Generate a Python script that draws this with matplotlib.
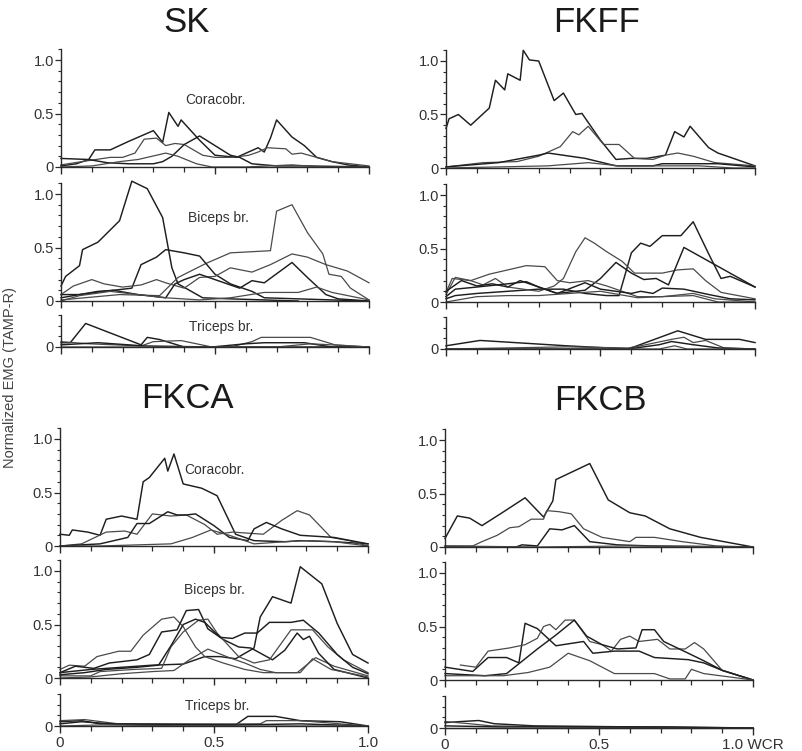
import matplotlib
matplotlib.use("Agg")
import matplotlib.pyplot as plt
from matplotlib.ticker import MultipleLocator, FixedLocator

plt.rcParams['font.family'] = ['Liberation Sans', 'DejaVu Sans']

# ---- data: each line is a list of (WCR, normalized EMG) ----
SK_CORACOBR = [
    [(0, 0.01), (0.05, 0.03), (0.09, 0.07), (0.11, 0.16), (0.16, 0.16), (0.22, 0.24), (0.30, 0.34),
     (0.33, 0.23), (0.35, 0.51), (0.38, 0.38), (0.39, 0.44), (0.45, 0.25), (0.50, 0.11), (0.57, 0.09),
     (0.64, 0.18), (0.66, 0.14), (0.68, 0.27), (0.70, 0.44), (0.75, 0.28), (0.79, 0.20), (0.83, 0.09),
     (0.88, 0.05), (0.93, 0.02), (1.0, 0.0)],
    [(0, 0.02), (0.09, 0.06), (0.16, 0.09), (0.20, 0.09), (0.24, 0.13), (0.27, 0.26), (0.31, 0.27),
     (0.34, 0.20), (0.37, 0.22), (0.40, 0.21), (0.46, 0.11), (0.50, 0.09), (0.56, 0.09), (0.61, 0.11),
     (0.64, 0.14), (0.67, 0.18), (0.73, 0.17), (0.75, 0.12), (0.78, 0.13), (0.83, 0.09), (0.88, 0.05),
     (1.0, 0.01)],
    [(0, 0.08), (0.09, 0.07), (0.15, 0.04), (0.22, 0.03), (0.30, 0.03), (0.33, 0.05), (0.36, 0.10),
     (0.40, 0.21), (0.45, 0.29), (0.50, 0.20), (0.55, 0.11), (0.58, 0.09), (0.62, 0.03), (0.70, 0.01),
     (0.80, 0.01), (1.0, 0.0)],
    [(0, 0.0), (0.10, 0.01), (0.19, 0.05), (0.25, 0.07), (0.34, 0.13), (0.38, 0.10), (0.44, 0.03),
     (0.49, 0.0), (0.60, 0.0), (0.75, 0.02), (0.85, 0.0), (1.0, 0.0)],
]

SK_BICEPS = [
    [(0, 0.14), (0.015, 0.23), (0.06, 0.33), (0.07, 0.48), (0.12, 0.55), (0.19, 0.75), (0.23, 1.12),
     (0.28, 1.05), (0.33, 0.78), (0.36, 0.31), (0.38, 0.16), (0.46, 0.03), (0.55, 0.02), (0.66, 0.01),
     (0.77, 0.0)],
    [(0, 0.01), (0.19, 0.06), (0.32, 0.05), (0.38, 0.22), (0.47, 0.35), (0.55, 0.45), (0.68, 0.47),
     (0.70, 0.84), (0.75, 0.90), (0.80, 0.64), (0.85, 0.44), (0.87, 0.25), (0.91, 0.23), (0.94, 0.12),
     (1.0, 0.01)],
    [(0, 0.06), (0.06, 0.06), (0.14, 0.09), (0.23, 0.12), (0.26, 0.34), (0.31, 0.41), (0.34, 0.48),
     (0.40, 0.45), (0.45, 0.42), (0.50, 0.25), (0.55, 0.16), (0.62, 0.09), (0.66, 0.03), (0.77, 0.02),
     (0.88, 0.01), (1.0, 0.0)],
    [(0, 0.06), (0.04, 0.14), (0.10, 0.20), (0.14, 0.16), (0.20, 0.13), (0.26, 0.15), (0.31, 0.20),
     (0.34, 0.17), (0.40, 0.12), (0.45, 0.22), (0.50, 0.23), (0.55, 0.31), (0.62, 0.27), (0.68, 0.34),
     (0.75, 0.44), (0.80, 0.41), (0.86, 0.34), (0.93, 0.28), (1.0, 0.17)],
    [(0, 0.03), (0.12, 0.09), (0.17, 0.10), (0.25, 0.06), (0.34, 0.03), (0.37, 0.16), (0.40, 0.20),
     (0.45, 0.25), (0.51, 0.19), (0.58, 0.12), (0.62, 0.19), (0.66, 0.17), (0.75, 0.36), (0.80, 0.22),
     (0.86, 0.06), (0.90, 0.02), (1.0, 0.0)],
    [(0, 0.0), (0.06, 0.05), (0.16, 0.09), (0.25, 0.06), (0.34, 0.03), (0.45, 0.01), (0.55, 0.03),
     (0.66, 0.08), (0.77, 0.08), (0.83, 0.13), (0.88, 0.08), (1.0, 0.01)],
]

SK_TRICEPS = [
    [(0, 0.04), (0.03, 0.04), (0.08, 0.22), (0.26, 0.02), (0.28, 0.09), (0.32, 0.07), (0.40, 0.0),
     (0.5, 0.0), (1.0, 0.0)],
    [(0, 0.05), (0.09, 0.03), (0.26, 0.01), (0.30, 0.05), (0.39, 0.06), (0.49, 0.0), (0.55, 0.0),
     (0.62, 0.05), (0.65, 0.09), (0.81, 0.09), (0.89, 0.02), (1.0, 0.0)],
    [(0, 0.02), (0.12, 0.04), (0.27, 0.01), (0.49, 0.0), (0.60, 0.03), (0.66, 0.04), (0.79, 0.04),
     (0.88, 0.0), (1.0, 0.0)],
    [(0, 0.0), (0.5, 0.0), (0.70, 0.0), (0.81, 0.03), (0.88, 0.02), (1.0, 0.0)],
]

FKFF_CORACOBR = [
    [(0, 0.37), (0.01, 0.46), (0.04, 0.50), (0.08, 0.40), (0.14, 0.56), (0.16, 0.82), (0.19, 0.73),
     (0.20, 0.88), (0.24, 0.82), (0.25, 1.10), (0.27, 1.01), (0.30, 1.00), (0.35, 0.63), (0.38, 0.70),
     (0.42, 0.50), (0.44, 0.51), (0.50, 0.26), (0.55, 0.08), (0.60, 0.09), (0.65, 0.09), (0.71, 0.12),
     (0.74, 0.34), (0.77, 0.29), (0.79, 0.39), (0.85, 0.19), (0.88, 0.14), (1.0, 0.02)],
    [(0, 0.01), (0.12, 0.05), (0.23, 0.06), (0.30, 0.11), (0.37, 0.20), (0.41, 0.34), (0.43, 0.31),
     (0.46, 0.39), (0.51, 0.22), (0.56, 0.22), (0.61, 0.09), (0.67, 0.08), (0.71, 0.12), (0.75, 0.14),
     (0.80, 0.11), (0.87, 0.05), (1.0, 0.02)],
    [(0, 0.01), (0.17, 0.05), (0.30, 0.12), (0.33, 0.14), (0.45, 0.09), (0.55, 0.02), (0.67, 0.02),
     (0.70, 0.04), (0.88, 0.04), (1.0, 0.01)],
    [(0, 0.0), (0.17, 0.01), (0.33, 0.02), (0.46, 0.05), (0.56, 0.02), (0.71, 0.02), (0.82, 0.02),
     (0.93, 0.0), (1.0, 0.0)],
]

FKFF_BICEPS = [
    [(0, 0.03), (0.03, 0.06), (0.10, 0.08), (0.20, 0.10), (0.30, 0.12), (0.38, 0.12), (0.45, 0.08),
     (0.52, 0.06), (0.56, 0.06), (0.60, 0.46), (0.63, 0.55), (0.66, 0.52), (0.70, 0.62), (0.76, 0.62),
     (0.80, 0.75), (0.85, 0.45), (0.89, 0.22), (0.92, 0.24), (1.0, 0.14)],
    [(0, 0.09), (0.02, 0.22), (0.08, 0.20), (0.12, 0.16), (0.16, 0.22), (0.20, 0.14), (0.25, 0.12),
     (0.30, 0.10), (0.35, 0.15), (0.38, 0.22), (0.42, 0.47), (0.45, 0.60), (0.48, 0.55), (0.52, 0.47),
     (0.57, 0.38), (0.61, 0.27), (0.65, 0.27), (0.70, 0.27), (0.75, 0.30), (0.80, 0.31), (0.84, 0.20),
     (0.89, 0.09), (1.0, 0.03)],
    [(0, 0.05), (0.03, 0.12), (0.10, 0.14), (0.20, 0.17), (0.26, 0.19), (0.30, 0.14), (0.36, 0.08),
     (0.45, 0.11), (0.50, 0.22), (0.55, 0.37), (0.60, 0.27), (0.64, 0.21), (0.68, 0.22), (0.72, 0.16),
     (0.77, 0.51), (1.0, 0.14)],
    [(0, 0.07), (0.03, 0.23), (0.08, 0.20), (0.14, 0.26), (0.20, 0.30), (0.26, 0.34), (0.32, 0.33),
     (0.36, 0.20), (0.40, 0.18), (0.46, 0.20), (0.52, 0.15), (0.57, 0.10), (0.62, 0.05), (0.70, 0.05),
     (0.80, 0.08), (0.87, 0.03), (1.0, 0.0)],
    [(0, 0.10), (0.05, 0.20), (0.10, 0.15), (0.15, 0.17), (0.20, 0.14), (0.24, 0.20), (0.30, 0.14),
     (0.36, 0.08), (0.45, 0.18), (0.50, 0.12), (0.55, 0.10), (0.60, 0.08), (0.63, 0.10), (0.67, 0.08),
     (0.70, 0.13), (0.77, 0.12), (0.85, 0.07), (0.92, 0.03), (1.0, 0.02)],
    [(0, 0.0), (0.10, 0.05), (0.20, 0.06), (0.30, 0.06), (0.40, 0.08), (0.50, 0.10), (0.58, 0.06),
     (0.62, 0.04), (0.70, 0.05), (0.80, 0.06), (0.88, 0.0), (1.0, 0.0)],
]

FKFF_TRICEPS = [
    [(0, 0.03), (0.11, 0.08), (0.39, 0.03), (0.59, 0.0), (0.75, 0.17), (0.84, 0.09), (0.89, 0.09),
     (0.95, 0.09), (1.0, 0.06)],
    [(0, 0.0), (0.39, 0.02), (0.59, 0.01), (0.63, 0.03), (0.73, 0.09), (0.77, 0.11), (0.80, 0.06),
     (0.84, 0.08), (0.90, 0.01), (1.0, 0.0)],
    [(0, 0.0), (0.59, 0.0), (0.69, 0.04), (0.73, 0.07), (0.80, 0.04), (0.88, 0.01), (1.0, 0.0)],
    [(0, 0.0), (0.69, 0.0), (0.74, 0.03), (0.78, 0.0), (1.0, 0.0)],
]

FKCA_CORACOBR = [
    [(0, 0.11), (0.03, 0.10), (0.04, 0.15), (0.09, 0.13), (0.13, 0.10), (0.15, 0.25), (0.20, 0.28),
     (0.25, 0.25), (0.27, 0.60), (0.29, 0.64), (0.34, 0.82), (0.35, 0.70), (0.37, 0.86), (0.40, 0.58),
     (0.46, 0.54), (0.51, 0.47), (0.57, 0.11), (0.63, 0.05), (0.73, 0.04), (0.78, 0.05), (0.89, 0.04),
     (1.0, 0.02)],
    [(0, 0.0), (0.07, 0.02), (0.15, 0.13), (0.21, 0.14), (0.25, 0.11), (0.30, 0.30), (0.36, 0.28),
     (0.41, 0.29), (0.47, 0.20), (0.51, 0.11), (0.56, 0.13), (0.61, 0.12), (0.66, 0.11), (0.72, 0.24),
     (0.77, 0.33), (0.81, 0.29), (0.88, 0.08), (0.94, 0.05), (1.0, 0.0)],
    [(0, 0.0), (0.13, 0.02), (0.22, 0.08), (0.25, 0.21), (0.29, 0.21), (0.35, 0.32), (0.38, 0.29),
     (0.41, 0.29), (0.44, 0.30), (0.50, 0.19), (0.55, 0.08), (0.61, 0.05), (0.63, 0.16), (0.67, 0.22),
     (0.72, 0.16), (0.78, 0.10), (0.89, 0.08), (1.0, 0.02)],
    [(0, 0.0), (0.13, 0.0), (0.36, 0.02), (0.43, 0.08), (0.49, 0.15), (0.55, 0.10), (0.63, 0.02),
     (0.73, 0.04), (0.80, 0.05), (0.89, 0.04), (1.0, 0.0)],
]

FKCA_BICEPS = [
    [(0, 0.05), (0.10, 0.08), (0.20, 0.10), (0.30, 0.12), (0.40, 0.13), (0.47, 0.20), (0.52, 0.20),
     (0.57, 0.18), (0.63, 0.28), (0.65, 0.57), (0.69, 0.76), (0.75, 0.70), (0.78, 1.04), (0.85, 0.88),
     (0.90, 0.51), (0.95, 0.22), (1.0, 0.14)],
    [(0, 0.08), (0.03, 0.12), (0.08, 0.11), (0.12, 0.20), (0.19, 0.25), (0.23, 0.25), (0.27, 0.40),
     (0.33, 0.55), (0.37, 0.57), (0.40, 0.48), (0.44, 0.29), (0.47, 0.20), (0.53, 0.14), (0.60, 0.08),
     (0.66, 0.05), (0.77, 0.05), (0.83, 0.19), (0.89, 0.11), (1.0, 0.02)],
    [(0, 0.05), (0.05, 0.11), (0.11, 0.09), (0.16, 0.14), (0.25, 0.17), (0.29, 0.22), (0.33, 0.43),
     (0.38, 0.45), (0.41, 0.63), (0.45, 0.64), (0.48, 0.46), (0.53, 0.36), (0.58, 0.29), (0.62, 0.28),
     (0.69, 0.17), (0.73, 0.26), (0.77, 0.42), (0.79, 0.36), (0.81, 0.39), (0.84, 0.23), (0.89, 0.08),
     (1.0, 0.0)],
    [(0, 0.02), (0.10, 0.02), (0.13, 0.06), (0.24, 0.08), (0.33, 0.09), (0.36, 0.29), (0.40, 0.43),
     (0.45, 0.54), (0.48, 0.55), (0.51, 0.42), (0.58, 0.20), (0.63, 0.14), (0.68, 0.17), (0.72, 0.33),
     (0.75, 0.45), (0.82, 0.45), (0.87, 0.29), (0.92, 0.17), (1.0, 0.05)],
    [(0, 0.03), (0.08, 0.05), (0.15, 0.08), (0.25, 0.10), (0.32, 0.12), (0.36, 0.30), (0.40, 0.50),
     (0.44, 0.55), (0.47, 0.52), (0.52, 0.38), (0.56, 0.37), (0.60, 0.42), (0.64, 0.42), (0.68, 0.52),
     (0.75, 0.52), (0.79, 0.54), (0.84, 0.42), (0.90, 0.22), (0.95, 0.10), (1.0, 0.04)],
    [(0, 0.0), (0.10, 0.01), (0.20, 0.04), (0.30, 0.06), (0.37, 0.07), (0.42, 0.17), (0.48, 0.27),
     (0.55, 0.19), (0.60, 0.14), (0.65, 0.08), (0.70, 0.05), (0.78, 0.05), (0.82, 0.18), (0.88, 0.08),
     (1.0, 0.01)],
]

FKCA_TRICEPS = [
    [(0, 0.04), (0.07, 0.05), (0.13, 0.02), (0.41, 0.01), (0.57, 0.01), (0.61, 0.09), (0.70, 0.09),
     (0.78, 0.05), (0.91, 0.04), (1.0, 0.0)],
    [(0, 0.05), (0.08, 0.06), (0.19, 0.02), (0.65, 0.02), (0.67, 0.05), (0.78, 0.05), (0.91, 0.02),
     (1.0, 0.0)],
    [(0, 0.02), (0.07, 0.04), (0.17, 0.02), (0.57, 0.01), (0.78, 0.02), (1.0, 0.0)],
    [(0, 0.0), (0.13, 0.01), (0.46, 0.0), (1.0, 0.0)],
]

FKCB_CORACOBR = [
    [(0, 0.08), (0.04, 0.29), (0.08, 0.27), (0.12, 0.20), (0.18, 0.31), (0.26, 0.46), (0.32, 0.28),
     (0.35, 0.43), (0.36, 0.63), (0.47, 0.78), (0.53, 0.44), (0.60, 0.32), (0.65, 0.29), (0.73, 0.17),
     (0.83, 0.09), (1.0, 0.0)],
    [(0, 0.01), (0.09, 0.01), (0.12, 0.05), (0.17, 0.11), (0.21, 0.18), (0.24, 0.19), (0.28, 0.26),
     (0.32, 0.26), (0.33, 0.34), (0.37, 0.33), (0.41, 0.31), (0.45, 0.17), (0.51, 0.09), (0.60, 0.05),
     (0.62, 0.09), (0.68, 0.09), (0.77, 0.05), (0.88, 0.01), (1.0, 0.0)],
    [(0, 0.0), (0.23, 0.0), (0.25, 0.02), (0.30, 0.01), (0.34, 0.17), (0.38, 0.16), (0.42, 0.20),
     (0.47, 0.05), (0.56, 0.02), (0.67, 0.01), (1.0, 0.0)],
    [(0, 0.01), (0.30, 0.0), (0.60, 0.01), (1.0, 0.0)],
]

FKCB_BICEPS = [
    [(0, 0.12), (0.09, 0.08), (0.14, 0.21), (0.20, 0.21), (0.24, 0.16), (0.26, 0.53), (0.30, 0.48),
     (0.36, 0.32), (0.45, 0.36), (0.48, 0.25), (0.55, 0.27), (0.63, 0.27), (0.68, 0.21), (0.79, 0.19),
     (0.84, 0.16), (0.90, 0.09), (1.0, 0.0)],
    [(0.05, 0.14), (0.10, 0.12), (0.14, 0.27), (0.21, 0.30), (0.26, 0.33), (0.30, 0.39), (0.32, 0.50),
     (0.34, 0.52), (0.36, 0.47), (0.39, 0.56), (0.42, 0.56), (0.47, 0.36), (0.51, 0.33), (0.54, 0.27),
     (0.57, 0.38), (0.60, 0.41), (0.63, 0.36), (0.69, 0.38), (0.73, 0.29), (0.78, 0.29), (0.81, 0.35),
     (0.84, 0.29), (0.90, 0.09), (1.0, 0.0)],
    [(0, 0.06), (0.13, 0.04), (0.20, 0.06), (0.30, 0.29), (0.36, 0.42), (0.42, 0.56), (0.46, 0.41),
     (0.51, 0.33), (0.56, 0.29), (0.62, 0.30), (0.64, 0.47), (0.68, 0.47), (0.71, 0.36), (0.79, 0.25),
     (0.84, 0.18), (0.90, 0.09), (1.0, 0.0)],
    [(0, 0.04), (0.19, 0.04), (0.27, 0.07), (0.34, 0.12), (0.40, 0.25), (0.47, 0.18), (0.55, 0.06),
     (0.64, 0.06), (0.68, 0.06), (0.73, 0.01), (0.78, 0.01), (0.80, 0.10), (0.84, 0.06), (1.0, 0.0)],
]

FKCB_TRICEPS = [
    [(0, 0.05), (0.05, 0.06), (0.11, 0.07), (0.16, 0.04), (0.29, 0.02), (0.62, 0.01), (1.0, 0.0)],
    [(0, 0.06), (0.08, 0.04), (0.15, 0.02), (0.40, 0.01), (1.0, 0.0)],
    [(0, 0.02), (0.18, 0.01), (0.72, 0.01), (1.0, 0.0)],
    [(0, 0.0), (0.50, 0.0), (1.0, 0.0)],
]

W, H = 803, 751
UNIT = 107.0   # pixels per 1.0 of normalized EMG
INK = '#2a2a2a'


def add_panel(fig, x0, x1, zero_px, top_val, lines, label=None, label_xy=None,
              xlabels=None, major_y=(0, 0.5, 1.0)):
    top_px = zero_px - top_val * UNIT
    ax = fig.add_axes([x0 / W, 1 - zero_px / H, (x1 - x0) / W, (zero_px - top_px) / H])
    for i, ln in enumerate(lines):
        xs = [p[0] for p in ln]
        ys = [p[1] for p in ln]
        ax.plot(xs, ys, color='#1e1e1e' if i % 2 == 0 else '#4a4a4a',
                lw=1.05 if i % 2 == 0 else 0.9, clip_on=False)
    ax.set_xlim(0, 1.0)
    ax.set_ylim(0, top_val)
    for s in ('top', 'right'):
        ax.spines[s].set_visible(False)
    for s in ('left', 'bottom'):
        ax.spines[s].set_color(INK)
        ax.spines[s].set_linewidth(1.0)
    ax.xaxis.set_major_locator(FixedLocator([0, 0.5, 1.0]))
    ax.xaxis.set_minor_locator(MultipleLocator(0.1))
    ax.yaxis.set_major_locator(FixedLocator(list(major_y)))
    ax.yaxis.set_minor_locator(MultipleLocator(0.1))
    ax.tick_params(axis='x', which='major', direction='out', length=5, width=1.0, color=INK)
    ax.tick_params(axis='x', which='minor', direction='out', length=3.5, width=0.9, color=INK)
    ax.tick_params(axis='y', which='major', direction='out', length=4, width=0.9, color=INK,
                   labelsize=10.5, labelcolor='#333333', pad=1)
    ax.tick_params(axis='y', which='minor', direction='out', length=2, width=0.8, color=INK)
    ax.set_yticklabels(['0' if v == 0 else f'{v:.1f}' for v in major_y])
    if xlabels:
        ax.set_xticklabels(xlabels)
        ax.tick_params(axis='x', labelsize=11, labelcolor='#333333', pad=2)
    else:
        ax.set_xticklabels([])
    if label:
        ax.text(label_xy[0], label_xy[1], label, transform=ax.transData, ha='center',
                va='center', fontsize=10, color='#333333')
    ax.patch.set_alpha(0)
    return ax


fig = plt.figure(figsize=(W / 100, H / 100), dpi=100)
fig.patch.set_facecolor('white')

L0, L1 = 61, 369
R0, R1 = 446, 755

# SK (top left)
add_panel(fig, L0, L1, 167, 1.1, SK_CORACOBR, 'Coracobr.', (0.5, 0.63))
add_panel(fig, L0, L1, 301, 1.1, SK_BICEPS, 'Biceps br.', (0.51, 0.78))
add_panel(fig, L0, L1, 347, 0.3, SK_TRICEPS, 'Triceps br.', (0.52, 0.19), major_y=(0,))

# FKFF (top right)
add_panel(fig, R0, R1, 168, 1.1, FKFF_CORACOBR)
add_panel(fig, R0, R1, 302, 1.1, FKFF_BICEPS)
add_panel(fig, R0, R1, 349, 0.3, FKFF_TRICEPS, major_y=(0,))

# FKCA (bottom left)
add_panel(fig, L0 - 1, L1 - 1, 546, 1.1, FKCA_CORACOBR, 'Coracobr.', (0.5, 0.71))
add_panel(fig, L0 - 1, L1 - 1, 678, 1.1, FKCA_BICEPS, 'Biceps br.', (0.5, 0.82))
add_panel(fig, L0 - 1, L1 - 1, 726, 0.3, FKCA_TRICEPS, 'Triceps br.', (0.51, 0.19),
          xlabels=['0', '0.5', '1.0'], major_y=(0,))

# FKCB (bottom right)
add_panel(fig, R0 - 1, R1 - 2, 547, 1.1, FKCB_CORACOBR)
add_panel(fig, R0 - 1, R1 - 2, 680, 1.1, FKCB_BICEPS)
add_panel(fig, R0 - 1, R1 - 2, 728, 0.3, FKCB_TRICEPS,
          xlabels=['0', '0.5', '1.0 WCR'], major_y=(0,))

# group titles
for name, px, py in [('SK', 187, 22), ('FKFF', 597, 22), ('FKCA', 187, 398), ('FKCB', 600, 400)]:
    fig.text(px / W, 1 - py / H, name, ha='center', va='center', fontsize=25, color='#1a1a1a')

fig.text(10 / W, 1 - 378 / H, 'Normalized EMG (TAMP-R)', rotation=90, ha='center',
         va='center', fontsize=10.5, color='#444444')

fig.savefig('out.png', dpi=100)
